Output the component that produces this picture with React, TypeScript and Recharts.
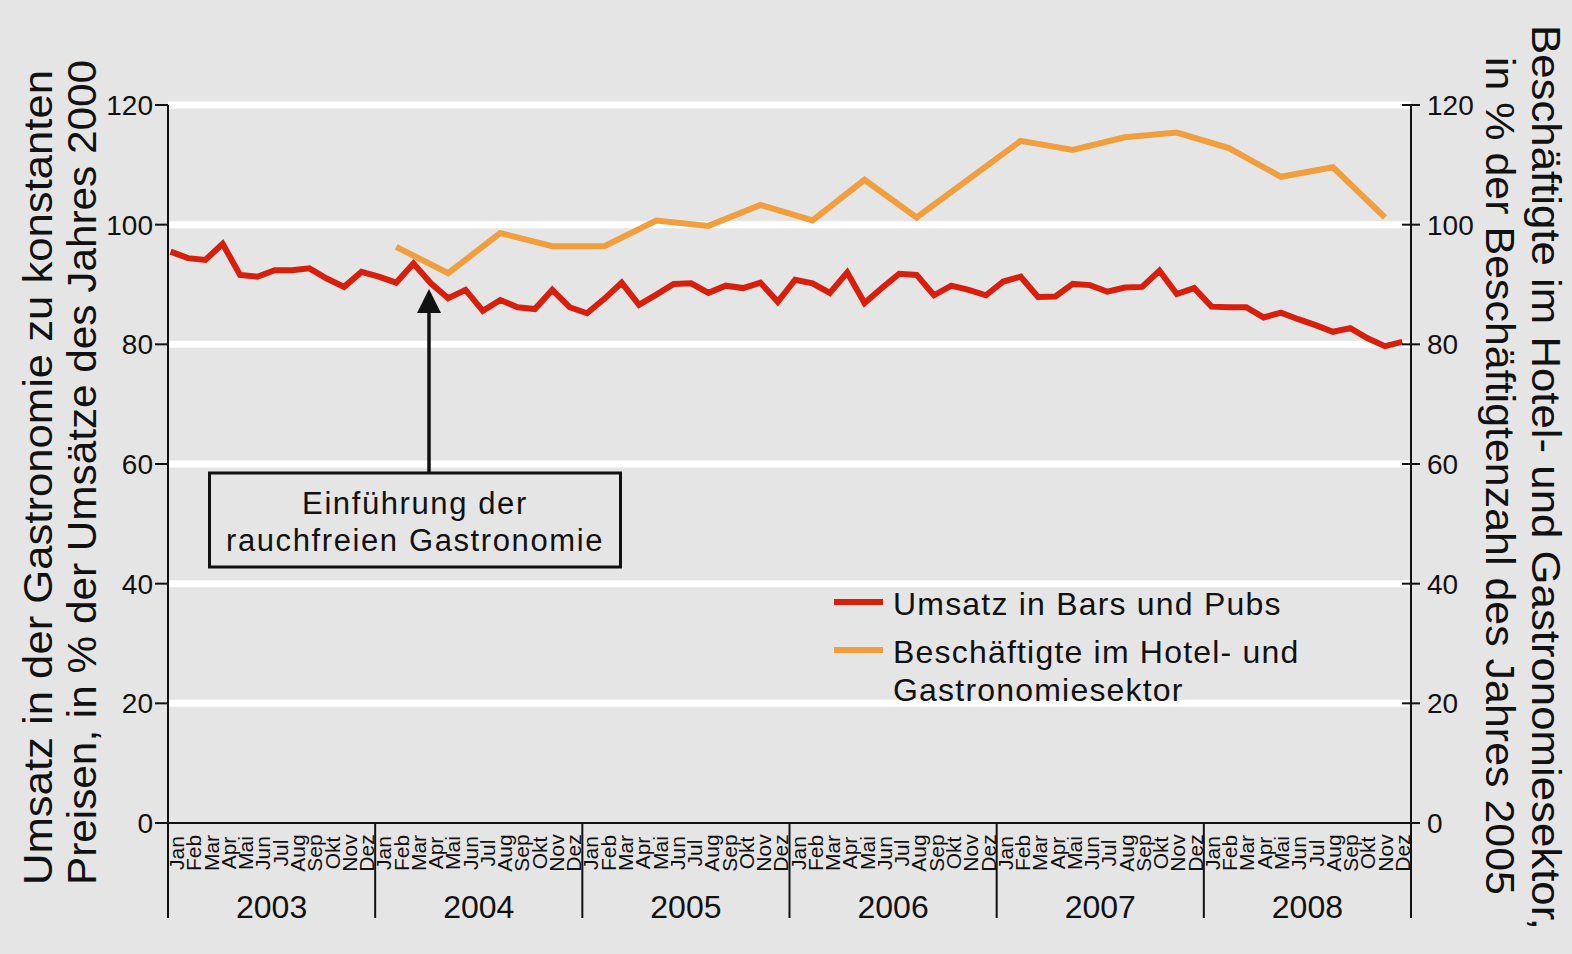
import React from "react";
import { LineChart, Line, XAxis, YAxis, ReferenceLine, Legend } from "recharts";

const FONT = '"Liberation Sans", Arial, Helvetica, sans-serif';
const BG = "#e5e5e5";
const RED = "#d71f0b";
const ORANGE = "#f19e3e";
const INK = "#111";

const months = ["Jan", "Feb", "Mar", "Apr", "Mai", "Jun", "Jul", "Aug", "Sep", "Okt", "Nov", "Dez"];
const years = ["2003", "2004", "2005", "2006", "2007", "2008"];

// Umsatz in Bars und Pubs, monthly Jan 2003 - Dez 2008
const umsatz = [
  95.5, 94.4, 94.1, 96.8, 91.6, 91.3, 92.4, 92.4, 92.7, 91.0, 89.6, 92.1,
  91.3, 90.3, 93.5, 90.2, 87.7, 89.1, 85.6, 87.4, 86.2, 85.9, 89.1, 86.2,
  85.2, 87.6, 90.3, 86.6, 88.3, 90.1, 90.2, 88.6, 89.8, 89.4, 90.3, 87.1,
  90.8, 90.2, 88.6, 92.0, 86.9, 89.4, 91.8, 91.6, 88.2, 89.8, 89.1, 88.2,
  90.5, 91.3, 87.9, 88.0, 90.1, 89.9, 88.8, 89.5, 89.6, 92.3, 88.4, 89.4,
  86.3, 86.2, 86.2, 84.5, 85.3, 84.2, 83.2, 82.1, 82.7, 81.0, 79.7, 80.4,
];

// Beschäftigte, quarterly (month index from Jan 2003)
const beschMonth = [13, 16, 19, 22, 25, 28, 31, 34, 37, 40, 43, 46, 49, 52, 55, 58, 61, 64, 67, 70];
const beschValues = [
  96.3, 91.9, 98.6, 96.4, 96.4, 100.7, 99.8, 103.3, 100.7, 107.5,
  101.2, 107.6, 114.0, 112.5, 114.6, 115.4, 112.8, 108.0, 109.6, 101.2,
];

const yTicks = [0, 20, 40, 60, 80, 100, 120];
const gridValues = [20, 40, 60, 80, 100, 120];

const legendLines = [["Umsatz in Bars und Pubs"], ["Beschäftigte im Hotel- und", "Gastronomiesektor"]];
const leftTitle = ["Umsatz in der Gastronomie zu konstanten", "Preisen, in % der Umsätze des Jahres 2000"];
const rightTitle = ["Beschäftigte im Hotel- und Gastronomiesektor,", "in % der Beschäftigtenzahl des Jahres 2005"];
const note = ["Einführung der", "rauchfreien Gastronomie"];

const data = umsatz.map((u, i) => {
  const k = beschMonth.indexOf(i);
  return { i, umsatz: u, besch: k >= 0 ? beschValues[k] : null };
});

// ticks for the month/year band axis: separators, year centres, month centres
const bandTicks = [
  ...years.map((_, k) => k * 12),
  72,
  ...years.map((_, k) => k * 12 + 6),
  ...umsatz.map((_, i) => i + 0.5),
];

const BandTick = (props: any) => {
  const { x, y, payload } = props;
  const v = payload.value;
  if (v % 12 === 0) {
    return <line x1={x} x2={x} y1={y} y2={y + 95} stroke={INK} strokeWidth={2} />;
  }
  if (v % 12 === 6) {
    return (
      <text x={x} y={y + 95} textAnchor="middle" fontSize={32} fill={INK} fontFamily={FONT}>
        {years[(v - 6) / 12]}
      </text>
    );
  }
  const m = Math.floor(v) % 12;
  return (
    <text
      transform={`translate(${x + 7.5},${y + 30}) rotate(-90)`}
      textAnchor="middle"
      fontSize={21}
      fill={INK}
      fontFamily={FONT}
    >
      {months[m]}
    </text>
  );
};

const LeftTick = (props: any) => {
  const { x, y, payload } = props;
  return (
    <g>
      <line x1={x - 13} x2={x} y1={y} y2={y} stroke={INK} strokeWidth={2} />
      <text x={x - 15} y={y} dy="0.36em" textAnchor="end" fontSize={28} fill={INK} fontFamily={FONT}>
        {payload.value}
      </text>
    </g>
  );
};

const RightTick = (props: any) => {
  const { x, y, payload } = props;
  return (
    <g>
      <line x1={x - 9} x2={x + 9} y1={y} y2={y} stroke={INK} strokeWidth={2} />
      <text x={x + 16} y={y} dy="0.36em" textAnchor="start" fontSize={28} fill={INK} fontFamily={FONT}>
        {payload.value}
      </text>
    </g>
  );
};

const LegendBox = () => (
  <svg width={500} height={130} style={{ display: "block" }}>
    {legendLines.map((lines, k) => (
      <g key={k}>
        <line x1={14} x2={63} y1={22 + k * 48} y2={22 + k * 48} stroke={k === 0 ? RED : ORANGE} strokeWidth={6} />
        {lines.map((t, j) => (
          <text key={j} x={73} y={35 + k * 48 + j * 38} fontSize={32} letterSpacing={1.2} fill={INK} fontFamily={FONT}>
            {t}
          </text>
        ))}
      </g>
    ))}
  </svg>
);

export default function App() {
  return (
    <div style={{ position: "absolute", left: 0, top: 0, width: 1572, height: 954, background: BG, fontFamily: FONT }}>
      <LineChart width={1572} height={954} data={data} margin={{ top: 105, right: 0, bottom: 0, left: 0 }}>
        <XAxis xAxisId="d" type="number" dataKey="i" domain={[-0.15, 71.5]} allowDataOverflow hide />
        <XAxis
          xAxisId="band"
          type="number"
          dataKey="i"
          domain={[0, 72]}
          allowDataOverflow
          ticks={bandTicks}
          interval={0}
          tick={<BandTick />}
          tickLine={false}
          tickSize={0}
          tickMargin={0}
          height={131}
          axisLine={{ stroke: INK, strokeWidth: 2 }}
        />
        <YAxis
          yAxisId="l"
          domain={[0, 120]}
          ticks={yTicks}
          interval={0}
          width={168}
          tick={<LeftTick />}
          tickLine={false}
          tickSize={0}
          tickMargin={0}
          axisLine={{ stroke: INK, strokeWidth: 2 }}
        />
        <YAxis
          yAxisId="r"
          orientation="right"
          domain={[0, 120]}
          ticks={yTicks}
          interval={0}
          width={161}
          tick={<RightTick />}
          tickLine={false}
          tickSize={0}
          tickMargin={0}
          axisLine={{ stroke: INK, strokeWidth: 2 }}
        />
        {gridValues.map((v) => (
          <ReferenceLine key={v} xAxisId="d" yAxisId="l" y={v} stroke="#fff" strokeWidth={7} />
        ))}
        <Legend
          layout="horizontal"
          verticalAlign="middle"
          align="center"
          content={<LegendBox />}
          wrapperStyle={{ left: 820, top: 580, width: 500 }}
        />
        <Line
          xAxisId="d"
          yAxisId="l"
          type="linear"
          dataKey="umsatz"
          name="Umsatz in Bars und Pubs"
          stroke={RED}
          strokeWidth={6}
          dot={false}
          isAnimationActive={false}
        />
        <Line
          xAxisId="d"
          yAxisId="r"
          type="linear"
          dataKey="besch"
          name="Beschäftigte im Hotel- und Gastronomiesektor"
          stroke={ORANGE}
          strokeWidth={6}
          dot={false}
          connectNulls
          isAnimationActive={false}
        />
      </LineChart>
      <svg
        width={1572}
        height={954}
        style={{ position: "absolute", left: 0, top: 0, pointerEvents: "none" }}
        fontFamily={FONT}
        fill={INK}
      >
        <text transform="translate(52,885) rotate(-90)" fontSize={40} textLength={815} lengthAdjust="spacingAndGlyphs">
          {leftTitle[0]}
        </text>
        <text transform="translate(96,885) rotate(-90)" fontSize={40} textLength={825} lengthAdjust="spacingAndGlyphs">
          {leftTitle[1]}
        </text>
        <text transform="translate(1532,25) rotate(90)" fontSize={40} textLength={905} lengthAdjust="spacingAndGlyphs">
          {rightTitle[0]}
        </text>
        <text transform="translate(1486,57) rotate(90)" fontSize={40} textLength={838} lengthAdjust="spacingAndGlyphs">
          {rightTitle[1]}
        </text>
        <line x1={429} x2={429} y1={472} y2={306} stroke={INK} strokeWidth={3.5} />
        <polygon points="429,289 417,313 441,313" fill={INK} />
        <rect x={209.5} y={473} width={411} height={94} fill={BG} stroke={INK} strokeWidth={3} />
        {note.map((t, j) => (
          <text key={j} x={415} y={514 + j * 37} textAnchor="middle" fontSize={31} letterSpacing={1.6}>
            {t}
          </text>
        ))}
      </svg>
    </div>
  );
}
